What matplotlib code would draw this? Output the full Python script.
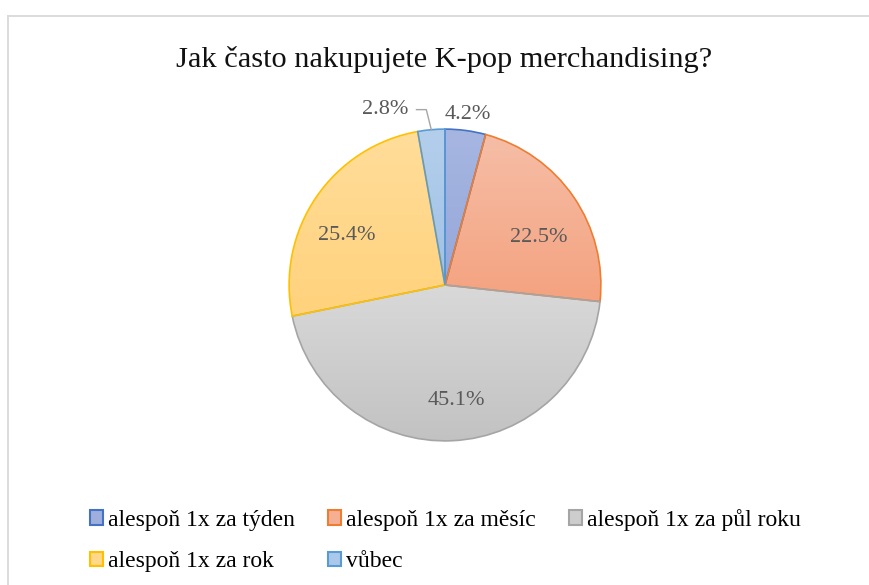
import numpy as np
import matplotlib.pyplot as plt
from matplotlib.colors import LinearSegmentedColormap
from matplotlib.patches import Patch
from matplotlib.lines import Line2D

plt.rcParams['font.family'] = ['Liberation Serif', 'DejaVu Serif']

# data
title = 'Jak často nakupujete K-pop merchandising?'
categories = ['alespoň 1x za týden', 'alespoň 1x za měsíc', 'alespoň 1x za půl roku',
              'alespoň 1x za rok', 'vůbec']
shares = [4.2, 22.5, 45.1, 25.4, 2.8]

# styles
edge_colors = ['#4472C4', '#ED7D31', '#A5A5A5', '#FFC000', '#5B9BD5']
top_colors = ['#a7b6e1', '#f6bea7', '#d9d9d9', '#ffdd9a', '#b4cfec']
bottom_colors = ['#95a8da', '#f4a27f', '#c2c2c2', '#ffd27c', '#a0c1e6']
mid_colors = ['#9eafdd', '#f5b093', '#cdcdcd', '#ffd88b', '#aac8e9']
# label placement: radial distance and angle shift (deg); None -> leader line label
label_dist = [1.117, 0.68, 0.735, 0.71, None]
label_shift = [0, -6.4, 3.2, 6.5, 0]

W, H = 870, 585
fig = plt.figure(figsize=(W / 100, H / 100), dpi=100)

# chart area border (only top and left edges visible)
bc = '#d9d9d9'
fig.add_artist(Line2D([8.5 / W, 8.5 / W], [0, 1 - 15.5 / H], transform=fig.transFigure, color=bc, lw=1.3))
fig.add_artist(Line2D([8.5 / W, 1], [1 - 15.5 / H, 1 - 15.5 / H], transform=fig.transFigure, color=bc, lw=1.3))

# pie axes: centre (445, 285) px, radius ~156 px
cx, cy, half = 445, 285, 159
ax = fig.add_axes([(cx - half) / W, (H - cy - half) / H, 2 * half / W, 2 * half / H])
wedges, _ = ax.pie(shares, startangle=90, counterclock=False, radius=1,
                   wedgeprops=dict(linewidth=1.2))

# vertical gradient fill in every slice
grad = np.linspace(0, 1, 256).reshape(-1, 1)
for w, ec, top, bot in zip(wedges, edge_colors, top_colors, bottom_colors):
    w.set_facecolor('none')
    w.set_edgecolor(ec)
    v = w.get_path().vertices
    cmap = LinearSegmentedColormap.from_list('g', [bot, top])
    im = ax.imshow(grad, extent=[v[:, 0].min(), v[:, 0].max(), v[:, 1].min(), v[:, 1].max()],
                   origin='lower', cmap=cmap, aspect='auto', zorder=0.5, interpolation='bilinear')
    im.set_clip_path(w)

ax.set_xlim(-1.02, 1.02)
ax.set_ylim(-1.02, 1.02)
ax.set_aspect('equal')
ax.set_axis_off()

# data labels
dy = -0.012  # visual centring of digits
for i, w in enumerate(wedges):
    txt = f'{shares[i]:.1f}%'
    if label_dist[i] is not None:
        ang = np.deg2rad((w.theta1 + w.theta2) / 2 + label_shift[i])
        d = label_dist[i]
        ax.text(d * np.cos(ang), d * np.sin(ang) + dy, txt, ha='center', va='center',
                fontsize=16, color='#595959')
    else:
        ang = np.deg2rad((w.theta1 + w.theta2) / 2)
        px, py = np.cos(ang), np.sin(ang)
        ly = 1.125
        ax.plot([px, px - 0.032, px - 0.095], [py, ly, ly], color='#a6a6a6', lw=1.0,
                clip_on=False)
        ax.text(px - 0.15, 1.141 + dy, txt, ha='right', va='center', fontsize=16, color='#595959')

fig.text(444.5 / W, 1 - 59.5 / H, title, ha='center', va='center', fontsize=21.9, color='#111111')

handles = [Patch(facecolor=m, edgecolor=e, linewidth=1.5) for m, e in zip(mid_colors, edge_colors)]
order = [0, 3, 1, 4, 2]
fig.legend([handles[i] for i in order], [categories[i] for i in order], ncol=3,
           loc='upper left', bbox_to_anchor=(90 / W, 1 - 509 / H), frameon=False,
           fontsize=17, handlelength=0.55, handleheight=0.55, handletextpad=0.2,
           columnspacing=1.42, labelspacing=0.85, borderpad=0, borderaxespad=0)

fig.savefig('out.png', dpi=100)
